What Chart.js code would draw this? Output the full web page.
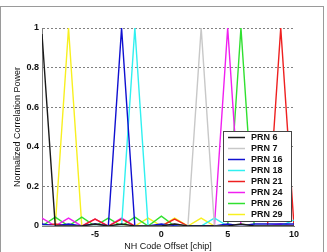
<!DOCTYPE html>
<html>
<head>
<meta charset="utf-8">
<script src="https://cdn.jsdelivr.net/npm/chart.js@4/dist/chart.umd.min.js"></script>
<style>
  html, body { margin: 0; padding: 0; background: #fff; }
  #wrap { position: relative; width: 327px; height: 252px; }
  #frame { position: absolute; left: 0; top: 6px; width: 324px; height: 260px; border: 1px solid #9a9a9a; box-sizing: border-box; pointer-events: none; }
</style>
</head>
<body>
<div id="wrap">
  <canvas id="c" width="327" height="252"></canvas>
  <div id="frame"></div>
</div>
<script>
// ---- data ----
const offsets = [-9,-8,-7,-6,-5,-4,-3,-2,-1,0,1,2,3,4,5,6,7,8,9,10];
const seriesNames = ["PRN 6","PRN 7","PRN 16","PRN 18","PRN 21","PRN 24","PRN 26","PRN 29"];
const prn6  = [0.97,0,0,0,0.01,0,0.01,0,0,0,0.01,0,0,0,0,0.01,0,0,0,0];
const prn7  = [0,0,0,0,0,0,0,0,0,0,0.01,0,1,0,0,0,0,0,0,0];
const prn16 = [0.01,0,0.01,0,0.01,0,1,0,0,0.01,0,0,0,0,0.01,0,0.01,0.01,0.01,0.01];
const prn18 = [0,0,0,0,0,0,0,1,0,0,0,0,0,0.04,0,0,0,0,0,0.03];
const prn21 = [0,0.01,0,0,0.035,0,0.035,0,0,0,0.035,0,0,0,0,0,0,0,1,0];
const prn24 = [0.04,0,0.04,0,0.035,0,0.04,0,0,0,0,0,0,0,1,0,0,0,0.01,0];
const prn26 = [0,0.045,0,0.045,0,0.04,0,0.045,0,0.05,0,0,0,0,0,1,0,0,0,0];
const prn29 = [0,0,1,0,0,0,0,0,0.04,0,0.04,0,0.04,0,0,0,0,0,0,0];
const seriesValues = [prn6, prn7, prn16, prn18, prn21, prn24, prn26, prn29];
const xTickValues = [-5, 0, 5, 10];
const yTickValues = [0, 0.2, 0.4, 0.6, 0.8, 1];

// ---- styles ----
const colors = ["#1a1a1a","#c8c8c8","#1010d0","#30f0f0","#ee2020","#f020f0","#30e030","#f8f020"];

const datasets = seriesNames.map((name, i) => ({
  label: name,
  data: offsets.map((x, j) => ({ x: x, y: seriesValues[i][j] })),
  borderColor: colors[i],
  backgroundColor: colors[i],
  borderWidth: 1.4,
  pointRadius: 0,
  tension: 0,
  fill: false
}));

const FONT = "'Liberation Sans', Arial, sans-serif";

const legendPlugin = {
  id: 'boxLegend',
  afterDatasetsDraw(chart) {
    const ctx = chart.ctx;
    const x0 = 223, y0 = 131, w = 68, h = 90;
    ctx.save();
    ctx.fillStyle = '#fff';
    ctx.fillRect(x0, y0, w, h);
    ctx.strokeStyle = '#444';
    ctx.lineWidth = 1;
    ctx.strokeRect(x0 + 0.5, y0 + 0.5, w, h);
    ctx.font = "bold 9px " + FONT;
    ctx.textBaseline = 'middle';
    ctx.textAlign = 'left';
    chart.data.datasets.forEach((ds, i) => {
      const y = y0 + 6.5 + i * 11;
      ctx.strokeStyle = ds.borderColor;
      ctx.lineWidth = 1.5;
      ctx.beginPath();
      ctx.moveTo(228, y);
      ctx.lineTo(245, y);
      ctx.stroke();
      ctx.fillStyle = '#111';
      ctx.fillText(ds.label, 251, y + 0.5);
    });
    ctx.restore();
  }
};

new Chart(document.getElementById('c'), {
  type: 'line',
  data: { datasets: datasets },
  options: {
    responsive: false,
    animation: false,
    events: [],
    layout: { padding: { top: 28, right: 33, left: 0, bottom: 0 } },
    plugins: { legend: { display: false }, tooltip: { enabled: false } },
    scales: {
      x: {
        type: 'linear',
        min: -9, max: 10,
        afterBuildTicks: (s) => { s.ticks = xTickValues.map(v => ({ value: v })); },
        afterFit: (s) => { s.height = 26; },
        grid: { display: false, drawTicks: false },
        border: { display: true, color: '#808080', width: 1 },
        ticks: { color: '#111', padding: 3, maxRotation: 0, font: { family: FONT, size: 9, weight: 'bold' }, callback: (v) => String(v) },
        title: { display: true, text: 'NH Code Offset [chip]', color: '#111', font: { family: FONT, size: 9 }, padding: { top: 0, bottom: 0.5 } }
      },
      y: {
        min: 0, max: 1,
        afterBuildTicks: (s) => { s.ticks = yTickValues.map(v => ({ value: v })); },
        afterFit: (s) => { s.width = 42; },
        grid: { display: true, drawTicks: false, color: '#808080', lineWidth: 1 },
        border: { display: true, color: '#808080', width: 1, dash: [2, 2] },
        ticks: { color: '#111', padding: 3, font: { family: FONT, size: 9, weight: 'bold' }, callback: (v) => String(Math.round(v * 10) / 10) },
        title: { display: true, text: 'Normalized Correlation Power', color: '#111', font: { family: FONT, size: 9 }, padding: { top: 12, bottom: 0 } }
      }
    }
  },
  plugins: [legendPlugin]
});
</script>
</body>
</html>
